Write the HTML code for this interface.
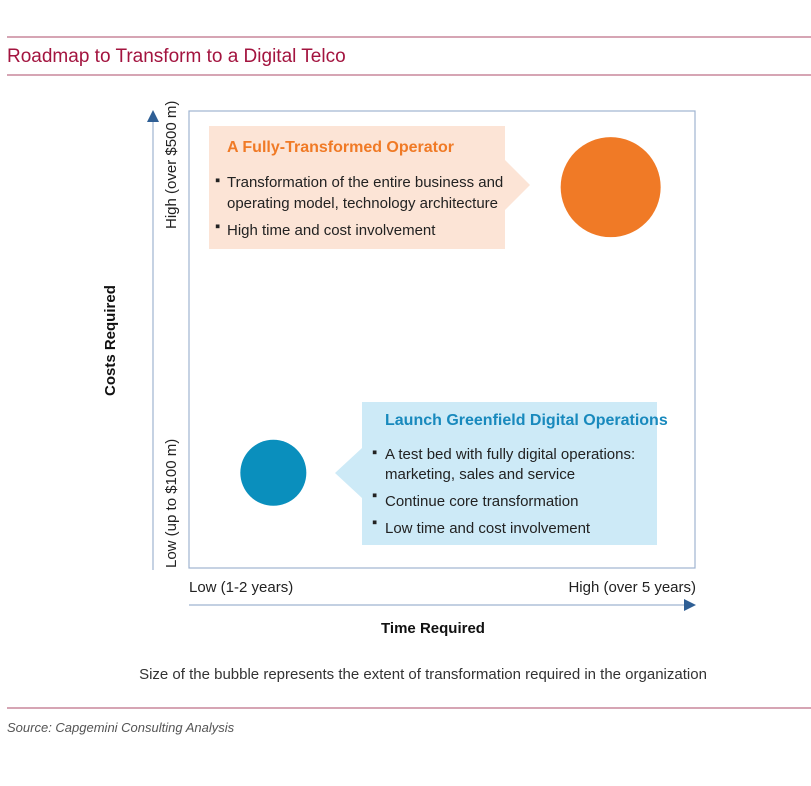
<!DOCTYPE html>
<html><head><meta charset="utf-8"><style>
body{margin:0;background:#fff;}
svg{display:block;font-family:"Liberation Sans Narrow","Liberation Sans",sans-serif;}
</style></head><body>
<svg id="chart" width="811" height="786" viewBox="0 0 811 786" xmlns="http://www.w3.org/2000/svg">
<line x1="7" y1="37" x2="811" y2="37" stroke="#c9879c" stroke-width="1.5"/>
<text x="7" y="62" font-family="Liberation Sans, sans-serif" font-size="19" fill="#a3143f">Roadmap to Transform to a Digital Telco</text>
<line x1="7" y1="75" x2="811" y2="75" stroke="#c9879c" stroke-width="1.5"/>

<rect x="189" y="111" width="506" height="457" fill="none" stroke="#9fb3d0" stroke-width="1.2"/>
<line x1="153" y1="570" x2="153" y2="118" stroke="#9fb3d0" stroke-width="1.2"/>
<polygon points="147,122 159,122 153,110" fill="#2f5f95"/>
<line x1="189" y1="605" x2="685" y2="605" stroke="#9fb3d0" stroke-width="1.2"/>
<polygon points="684,599 684,611 696,605" fill="#2f5f95"/>

<text transform="translate(176,229) rotate(-90)" font-size="15" fill="#222">High (over $500 m)</text>
<text transform="translate(176,568) rotate(-90)" font-size="15" fill="#222">Low (up to $100 m)</text>
<text transform="translate(115,396) rotate(-90)" font-size="15" font-weight="bold" fill="#111">Costs Required</text>
<text x="189" y="592" font-size="15" fill="#222">Low (1-2 years)</text>
<text x="696" y="592" text-anchor="end" font-size="15" fill="#222">High (over 5 years)</text>
<text x="433" y="633" text-anchor="middle" font-size="15" font-weight="bold" fill="#111">Time Required</text>

<g>
<polygon points="209,126 505,126 505,160 530,185 505,210 505,249 209,249" fill="#fce4d6"/>
<text x="227" y="152" font-size="16" font-weight="bold" fill="#f07a26">A Fully-Transformed Operator</text>
<text font-size="15" fill="#222"><tspan x="215" y="185">▪</tspan><tspan x="227" y="187">Transformation of the entire business and</tspan><tspan x="227" y="208">operating model, technology architecture</tspan></text>
<text font-size="15" fill="#222"><tspan x="215" y="231">▪</tspan><tspan x="227" y="235">High time and cost involvement</tspan></text>
</g>

<g>
<polygon points="362,402 657,402 657,545 362,545 362,498 335,473 362,448" fill="#cdeaf7"/>
<text x="385" y="425" font-size="16" font-weight="bold" fill="#1889bd">Launch Greenfield Digital Operations</text>
<text font-size="15" fill="#222"><tspan x="372" y="457">▪</tspan><tspan x="385" y="459">A test bed with fully digital operations:</tspan><tspan x="385" y="479">marketing, sales and service</tspan></text>
<text font-size="15" fill="#222"><tspan x="372" y="500">▪</tspan><tspan x="385" y="506">Continue core transformation</tspan></text>
<text font-size="15" fill="#222"><tspan x="372" y="527">▪</tspan><tspan x="385" y="533">Low time and cost involvement</tspan></text>
</g>

<g id="bubbles"></g>

<text x="423" y="679" text-anchor="middle" font-size="15" fill="#333">Size of the bubble represents the extent of transformation required in the organization</text>
<line x1="7" y1="708" x2="811" y2="708" stroke="#c9879c" stroke-width="1.5"/>
<text x="7" y="732" font-size="13" font-style="italic" fill="#555">Source: Capgemini Consulting Analysis</text>
</svg>
<script>
const bubbleNames = ["greenfield-digital", "fully-transformed"];
const timeYears = [1.5, 5.5];
const costMillions = [125, 500];
const bubbleSizes = [33, 50];
const bubbleColors = ["#0a8fbd", "#f07a26"];

function xScale(v){ return 189 + (v - 0.5) / 6 * 506; }
function yScale(v){ return 568 - v / 600 * 457; }
function rScale(v){ return v; }

const g = document.getElementById('bubbles');
for (let i = 0; i < bubbleNames.length; i++) {
  const c = document.createElementNS('http://www.w3.org/2000/svg', 'circle');
  c.setAttribute('cx', xScale(timeYears[i]));
  c.setAttribute('cy', yScale(costMillions[i]));
  c.setAttribute('r', rScale(bubbleSizes[i]));
  c.setAttribute('fill', bubbleColors[i]);
  
  
  g.appendChild(c);
}
</script>
</body></html>
